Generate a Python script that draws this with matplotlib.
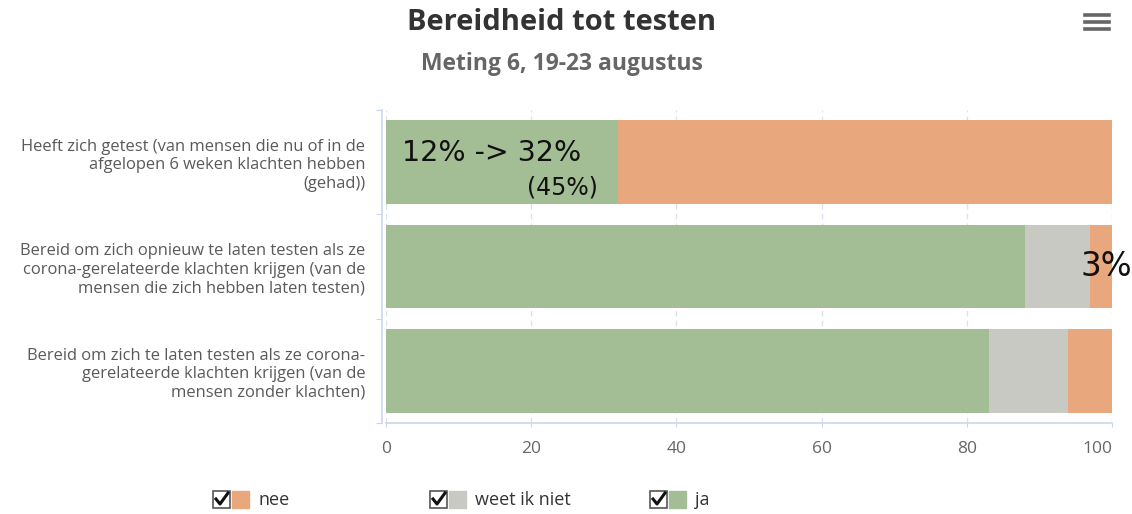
import matplotlib.pyplot as plt
from matplotlib.patches import Rectangle
from matplotlib.lines import Line2D

# categories (top to bottom) and shares in %
categories = [
    "Heeft zich getest (van mensen die nu of in de\nafgelopen 6 weken klachten hebben\n(gehad))",
    "Bereid om zich opnieuw te laten testen als ze\ncorona-gerelateerde klachten krijgen (van de\nmensen die zich hebben laten testen)",
    "Bereid om zich te laten testen als ze corona-\ngerelateerde klachten krijgen (van de\nmensen zonder klachten)",
]
ja = [32, 88, 83]
weet_niet = [0, 9, 11]
nee = [68, 3, 6]

series_names = ["nee", "weet ik niet", "ja"]
c_ja = "#a3be95"
c_weet = "#c9c9c4"
c_nee = "#e8a77c"
axis_col = "#ccd6eb"

plt.rcParams['font.family'] = ['Open Sans', 'DejaVu Sans']

fig = plt.figure(figsize=(11.32, 5.14), dpi=100)
ax = fig.add_axes([386 / 1132, 1 - 423 / 514, 726 / 1132, 313 / 514])

y = list(range(len(categories)))
h = 0.8
ax.barh(y, ja, height=h, color=c_ja, zorder=3)
left2 = ja
ax.barh(y, weet_niet, left=left2, height=h, color=c_weet, zorder=3)
left3 = [a + b for a, b in zip(ja, weet_niet)]
ax.barh(y, nee, left=left3, height=h, color=c_nee, zorder=3)

ax.set_xlim(0, 100)
ax.set_ylim(2.5, -0.5)
ax.set_xticks([0, 20, 40, 60, 80, 100])
ax.tick_params(axis='x', length=3, color=axis_col, labelcolor="#666666",
               labelsize=12.5, pad=10)
xl = ax.get_xticklabels()
xl[-1].set_ha('right')
xl[-1].set_x(100)
ax.set_yticks([-0.5, 0.5, 1.5, 2.5], minor=False)
ax.set_yticklabels([])
ax.set_yticks(y, minor=True)
ax.set_yticklabels(categories, minor=True)
ax.tick_params(axis='y', which='major', length=4, color=axis_col, direction='out')
ax.tick_params(axis='y', which='minor', length=0, pad=12, labelsize=11.9,
               labelcolor="#5a5a5a")
for t in ax.get_yticklabels(minor=True):
    t.set_linespacing(1.3)

ax.grid(axis='x', which='major', color="#d9e2ef", linestyle=(0, (4, 3)),
        linewidth=1, zorder=0)
for s in ['top', 'right']:
    ax.spines[s].set_visible(False)
for s in ['left', 'bottom']:
    ax.spines[s].set_color(axis_col)
    ax.spines[s].set_linewidth(1.2)
ax.spines['left'].set_position(('outward', 3))

# annotations written on the chart
ax.text(2.2, -0.09, "12% -> 32%", fontsize=20.5, family='DejaVu Sans',
        va='center', ha='left', color="#111111", zorder=5)
ax.text(29.2, 0.24, "(45%)", fontsize=17, family='DejaVu Sans',
        va='center', ha='right', color="#111111", zorder=5)
ax.text(95.6, 1.0, "3%", fontsize=23.5, family='DejaVu Sans',
        va='center', ha='left', color="#111111", zorder=5, clip_on=False)

# titles
fig.text(0.496, 1 - 22 / 514, "Bereidheid tot testen", ha='center', va='center',
         fontsize=21, fontweight='bold', color="#333333")
fig.text(0.496, 1 - 64 / 514, "Meting 6, 19-23 augustus", ha='center', va='center',
         fontsize=16.5, fontweight='bold', color="#666666")

# menu icon
for yy in [15, 22, 29]:
    fig.add_artist(Line2D([1085 / 1132, 1109 / 1132], [1 - yy / 514] * 2,
                          color="#666666", linewidth=2.6))

# legend with checkboxes
leg_colors = [c_nee, c_weet, c_ja]
leg_x = [213, 430, 650]
W, H = 1132, 514
for name, col, lx in zip(series_names, leg_colors, leg_x):
    yc = 500
    fig.add_artist(Rectangle((lx / W, 1 - (yc + 8) / H), 17 / W, 17 / H,
                             facecolor="white", edgecolor="#555555", lw=1.2,
                             transform=fig.transFigure))
    fig.add_artist(Line2D([(lx + 3) / W, (lx + 7) / W, (lx + 15) / W],
                          [1 - (yc - 1) / H, 1 - (yc + 4) / H, 1 - (yc - 7) / H],
                          color="#111111", lw=2.2, transform=fig.transFigure))
    fig.add_artist(Rectangle(((lx + 19) / W, 1 - (yc + 8) / H), 17 / W, 17 / H,
                             color=col, transform=fig.transFigure))
    fig.text((lx + 45) / W, 1 - yc / H, name, fontsize=13, ha='left', va='center',
             color="#333333")

fig.savefig("out.png", dpi=100)
